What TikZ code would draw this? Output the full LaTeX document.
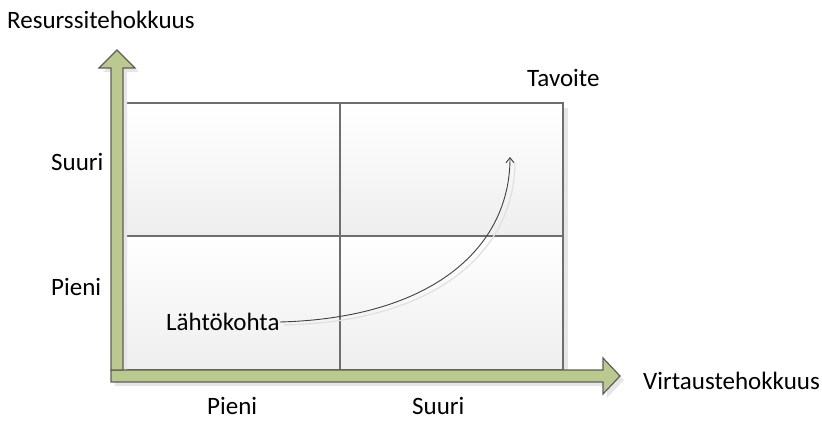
\documentclass[tikz,border=0pt]{standalone}
\usepackage{fontspec}
\setmainfont{Carlito}
\usetikzlibrary{arrows.meta}
\definecolor{arrowfill}{HTML}{BCC98E}
\definecolor{arrowline}{HTML}{5E5E5E}
\definecolor{gridline}{HTML}{6E6E6E}
\definecolor{shadowc}{HTML}{E6E6E6}
\definecolor{cellbot}{HTML}{EEEEEE}
\tikzset{
  lbl/.style={inner sep=0pt, font=\fontsize{25}{28}\selectfont, text=black},
  axisarrow/.style={fill=arrowfill, draw=arrowline, line width=1.2pt, line join=miter},
  axisshadow/.style={fill=shadowc, draw=none},
  cell/.style={top color=white, bottom color=cellbot},
  gridln/.style={draw=gridline, line width=1.5pt},
  curve/.style={draw=black!75, line width=0.9pt},
  curveshadow/.style={draw=black!12, line width=1.2pt}
}
\begin{document}
\begin{tikzpicture}[x=1pt,y=-1pt]
\useasboundingbox (0,0) rectangle (822,421);
% grid shadow
\fill[shadowc] (128,108) rectangle (568,375);
% cells
\shade[cell] (123,103) rectangle (340,236);
\shade[cell] (340,103) rectangle (563,236);
\shade[cell] (123,236) rectangle (340,370);
\shade[cell] (340,236) rectangle (563,370);
\draw[gridln] (123,103) rectangle (563,370);
\draw[gridln] (340,103) -- (340,370);
\draw[gridln] (123,236) -- (563,236);
% arrow shadows
\fill[axisshadow] (115,374) -- (607,374) -- (607,362) -- (624,380) -- (607,398) -- (607,386) -- (115,386) -- cycle;
\fill[axisshadow] (115,374) -- (115,72) -- (103,72) -- (121,54) -- (139,72) -- (127,72) -- (127,374) -- cycle;
% axis arrows
\draw[axisarrow] (111,370) -- (603,370) -- (603,358) -- (620,376) -- (603,394) -- (603,382) -- (111,382) -- cycle;
\draw[axisarrow] (111,370) -- (111,68) -- (99,68) -- (117,50) -- (135,68) -- (123,68) -- (123,370) -- cycle;
% labels
\node[lbl, anchor=west] (yaxis) at (7,20) {Resurssitehokkuus};
\node[lbl, anchor=west] (xaxis) at (643,381) {Virtaustehokkuus};
\node[lbl, anchor=west] (tavoite) at (527,78) {Tavoite};
\node[lbl, anchor=west] (ysuuri) at (51,162) {Suuri};
\node[lbl, anchor=west] (ypieni) at (51,287) {Pieni};
\node[lbl, anchor=west] (xpieni) at (207,406) {Pieni};
\node[lbl, anchor=west] (xsuuri) at (412,406) {Suuri};
\node[lbl, anchor=west] (lahto) at (166,322) {Lähtökohta};
\coordinate (goal) at (510,157);
\coordinate (goalsh) at (515,163);
% curve
\draw[curveshadow] ([xshift=4pt,yshift=-3pt]lahto.east) .. controls (436,322) and (514,252) .. (goalsh);
\draw[curve, -{Straight Barb[length=5pt,width=8pt]}] (lahto.east) .. controls (432,318) and (510,248) .. (goal);
\end{tikzpicture}
\end{document}
